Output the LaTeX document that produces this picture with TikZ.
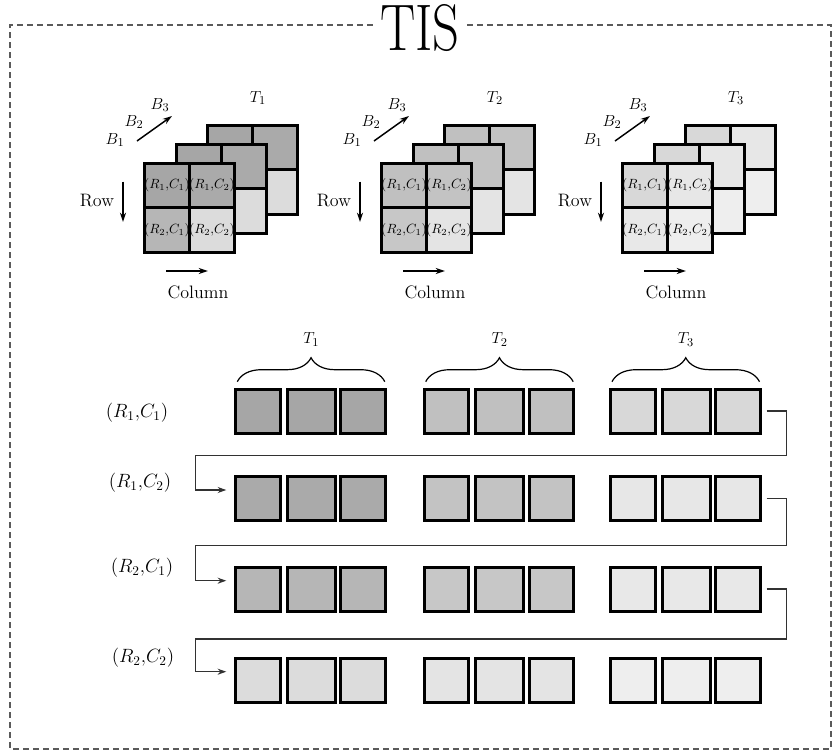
\documentclass[tikz,border=0pt]{standalone}
\usetikzlibrary{arrows.meta,calc,decorations.pathreplacing}

% grey levels of the blocks, per tile (T) and position (row/column)
\definecolor{T1p11}{RGB}{166,166,166}
\definecolor{T1p12}{RGB}{170,170,170}
\definecolor{T1p21}{RGB}{182,182,182}
\definecolor{T1p22}{RGB}{220,220,220}
\definecolor{T2p11}{RGB}{192,192,192}
\definecolor{T2p12}{RGB}{195,195,195}
\definecolor{T2p21}{RGB}{199,199,199}
\definecolor{T2p22}{RGB}{228,228,228}
\definecolor{T3p11}{RGB}{216,216,216}
\definecolor{T3p12}{RGB}{231,231,231}
\definecolor{T3p21}{RGB}{232,232,232}
\definecolor{T3p22}{RGB}{238,238,238}
\definecolor{frame}{RGB}{90,90,90}
\definecolor{wire}{RGB}{50,50,50}

\tikzset{
  border/.style={draw=frame, line width=1pt, dash pattern=on 4.5pt off 3pt},
  title/.style={font=\fontsize{49.4}{50}\selectfont, inner xsep=5.5pt, inner ysep=0pt},
  cell/.style={draw=black, line width=2.25pt, minimum width=33.75pt,
    minimum height=33.375pt, inner sep=0pt, font=\fontsize{10.2}{12}\selectfont},
  box/.style={draw=black, line width=2.25pt, minimum height=33pt, inner sep=0pt},
  txt/.style={font=\fontsize{13.5}{16}\selectfont, inner sep=0pt},
  mlab/.style={font=\fontsize{12.5}{14}\selectfont, inner sep=0pt},
  rowlab/.style={font=\fontsize{14.5}{16}\selectfont, inner sep=0pt},
  dirarrow/.style={draw=black, line width=1.1pt, -{Stealth[length=7pt,width=4.5pt]}},
  conn/.style={draw=wire, line width=1.1pt, -{Stealth[length=6.5pt,width=4.5pt]}},
  bracepath/.style={draw=black, line width=0.9pt, decorate,
    decoration={brace, amplitude=18pt}},
}

\begin{document}
\begin{tikzpicture}[x=0.75pt, y=-0.75pt]
\useasboundingbox (0,0) rectangle (833,751);

% outer dashed frame with its title
\node[title] (tis) at (420,28) {\scalebox{0.8}[1]{TIS}};
\draw[border] (tis.west |- 0,25) -- (10,25) -- (10,749) -- (831,749)
  -- (831,25) -- (tis.east |- 0,25);

% three stacked 2x2 tiles, one per time step
\foreach \t/\xo in {1/143, 2/380, 3/621} {
  \foreach \k in {2,1,0} {
    \foreach \r in {1,2} {
      \foreach \c in {1,2} {
        \node[cell, fill=T\t p\r\c] (g\t-\k-\r\c)
          at ({\xo+24+45*(\c-1)+31.5*\k}, {185.25+44.5*(\r-1)-19*\k})
          {\ifnum\k=0 $(R_\r{,}C_\c)$\fi};
      }
    }
  }
  \node[mlab] (tl\t) at ({\xo+115}, 98) {$T_\t$};
  \node[mlab] (bone\t) at ({\xo-28}, 140) {$B_1$};
  \node[mlab] (btwo\t) at ({\xo-9}, 122) {$B_2$};
  \node[mlab] (bthree\t) at ({\xo+17}, 105) {$B_3$};
  \draw[dirarrow] ({\xo-6}, 141) -- ({\xo+29}, 116);
  \node[txt] (row\t) at ({\xo-46}, 201) {Row};
  \draw[dirarrow] ({\xo-20}, 181.5) -- ({\xo-20}, 222);
  \draw[dirarrow] ({\xo+23}, 271) -- ({\xo+65}, 271);
  \node[txt] (col\t) at ({\xo+55}, 292) {Column};
}

% the same blocks laid out band by band, one row per position
\foreach \p/\yc in {11/411.2, 12/498.5, 21/589.2, 22/680.2} {
  \foreach \t/\s in {1/234.3, 2/422.7, 3/609} {
    \foreach \k/\dx/\w in {1/23.75/33.375pt, 2/77/36pt, 3/128.75/33.375pt} {
      \node[box, minimum width=\w, fill=T\t p\p] (b\p-\t-\k) at ({\s+\dx}, \yc) {};
    }
  }
}

\node[rowlab] (lab11) at (137,413) {$(R_1{,}C_1)$};
\node[rowlab] (lab12) at (140,483) {$(R_1{,}C_2)$};
\node[rowlab] (lab21) at (142,568) {$(R_2{,}C_1)$};
\node[rowlab] (lab22) at (143,658) {$(R_2{,}C_2)$};

% braces naming the tiles
\foreach \t in {1,2,3} {
  \draw[bracepath] ($(b11-\t-1.north west)+(3,-6)$) -- ($(b11-\t-3.north east)+(-2,-6)$);
  \node[mlab] (bt\t) at ($(b11-\t-2.north)+(0,-48)$) {$T_\t$};
}

% scan order from one row to the next
\foreach \a/\b/\m in {11/12/455.7, 12/21/545.7, 21/22/639} {
  \draw[conn] ($(b\a-3-3.east)+(5,0)$) -- ++(20,0) |- (195.7,\m)
    |- ($(b\b-1-1.west)+(-8,-8.5)$);
}
\end{tikzpicture}
\end{document}
